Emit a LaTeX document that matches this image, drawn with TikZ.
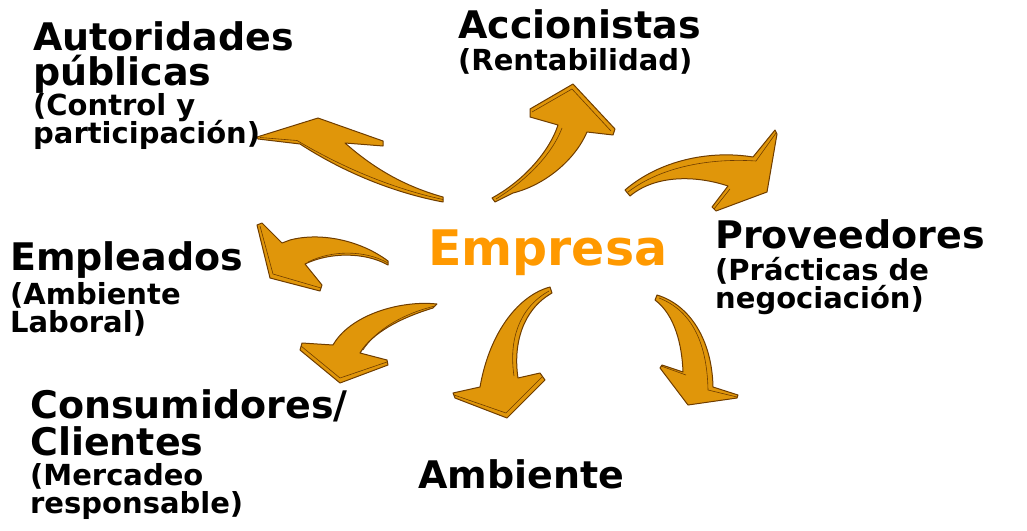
\documentclass[tikz,border=0pt]{standalone}
\usepackage{fontspec}
\setmainfont{DejaVu Sans}
\usepackage{tikz}
\usetikzlibrary{calc}

\definecolor{flechaoro}{RGB}{224,150,10}
\definecolor{flechaborde}{RGB}{110,60,0}
\definecolor{empresanar}{RGB}{255,153,0}

\tikzset{
  titulo/.style={font=\fontsize{38}{38}\selectfont\bfseries, anchor=base west, inner sep=0pt},
  detalle/.style={font=\fontsize{29}{29}\selectfont\bfseries, anchor=base west, inner sep=0pt},
  flecha/.style={fill=flechaoro, draw=flechaborde, line width=1pt, line join=round},
  bisel/.style={draw=flechaborde, line width=0.6pt, line join=round}
}

\begin{document}
\begin{tikzpicture}[x=1pt,y=-1pt]
  \useasboundingbox (0,0) rectangle (1027,530);

  % centro
  \node[anchor=base west, inner sep=0pt, font=\fontsize{49}{49}\selectfont\bfseries,
        text=empresanar] (empresa) at (428,265) {Empresa};

  % flechas
  \draw[flecha] (257,137) -- (318,118) -- (383,141) -- (383,146) -- (345,143)
    .. controls (370,165) and (400,185) .. (443,197) -- (443,202)
    .. controls (390,192) and (340,170) .. (300,144) -- (258,139) -- cycle;
  \draw[bisel] (260,137.5) -- (297,140.5) .. controls (340,166) and (390,188) .. (443,199.5);

  \draw[flecha] (492,198) .. controls (525,180) and (550,150) .. (558,125) -- (530,117)
    -- (530,109) -- (573,84) -- (615,129) -- (613,135) -- (587,132)
    .. controls (575,160) and (545,185) .. (513,193) -- (495,202) -- cycle;
  \draw[bisel] (532,112) -- (572,89) -- (611,131);
  \draw[bisel] (562,128) .. controls (553,152) and (530,178) .. (496,199);

  \draw[flecha] (625,190) .. controls (660,160) and (710,150) .. (753,157) -- (775,130)
    -- (777,134) -- (767,192) -- (716,211) -- (712,207) -- (728,186)
    .. controls (695,175) and (655,175) .. (630,196) -- cycle;
  \draw[bisel] (628,192) .. controls (662,166) and (712,158) .. (756,161) -- (776,133);
  \draw[bisel] (714,209) -- (730,189);

  \draw[flecha] (257,225) -- (270,278) -- (320,291) -- (322,285) -- (305,264)
    .. controls (330,252) and (365,252) .. (388,265) -- (388,261)
    .. controls (360,240) and (320,232) .. (290,240) -- (282,243) -- (262,223) -- cycle;
  \draw[bisel] (260,226) -- (273,274) -- (321,288);
  \draw[bisel] (308,262) .. controls (332,250) and (365,250) .. (388,263);

  \draw[flecha] (437,304) .. controls (400,300) and (350,315) .. (333,345) -- (302,343)
    -- (300,350) -- (340,383) -- (388,365) -- (387,360) -- (360,353)
    .. controls (372,333) and (400,318) .. (433,308) -- cycle;
  \draw[bisel] (301,346) -- (340,378) -- (387,362);
  \draw[bisel] (363,350) .. controls (376,330) and (402,314) .. (435,306);

  \draw[flecha] (550,287) .. controls (520,295) and (490,330) .. (480,387) -- (453,393)
    -- (455,398) -- (507,418) -- (545,380) -- (540,373) -- (518,378)
    .. controls (513,345) and (522,310) .. (552,293) -- cycle;
  \draw[bisel] (454,395) -- (506,413) -- (542,377);
  \draw[bisel] (514,376) .. controls (509,343) and (517,309) .. (549,291);

  \draw[flecha] (657,295) .. controls (690,305) and (712,340) .. (713,387) -- (738,395)
    -- (737,398) -- (688,405) -- (660,368) -- (662,365) -- (683,372)
    .. controls (682,345) and (675,315) .. (655,300) -- cycle;
  \draw[bisel] (659,298) .. controls (690,310) and (707,340) .. (708,390) -- (737,397);
  \draw[bisel] (661,366) -- (686,375);

  % textos
  \node[titulo] (aut1) at (33,50) {Autoridades};
  \node[titulo] (aut2) at (33,85) {públicas};
  \node[detalle] (aut3) at (33,115) {(Control y};
  \node[detalle] (aut4) at (33,143) {participación)};

  \node[titulo] (acc1) at (458,38) {Accionistas};
  \node[detalle] (acc2) at (458,70) {(Rentabilidad)};

  \node[titulo] (pro1) at (715,248) {Proveedores};
  \node[detalle] (pro2) at (715,280) {(Prácticas de};
  \node[detalle] (pro3) at (715,308) {negociación)};

  \node[titulo] (emp1) at (10,270) {Empleados};
  \node[detalle] (emp2) at (10,304) {(Ambiente};
  \node[detalle] (emp3) at (10,332) {Laboral)};

  \node[titulo] (con1) at (30,418) {Consumidores/};
  \node[titulo] (con2) at (30,455) {Clientes};
  \node[detalle] (con3) at (30,485) {(Mercadeo};
  \node[detalle] (con4) at (30,513) {responsable)};

  \node[titulo] (amb1) at (418,488) {Ambiente};
\end{tikzpicture}
\end{document}
